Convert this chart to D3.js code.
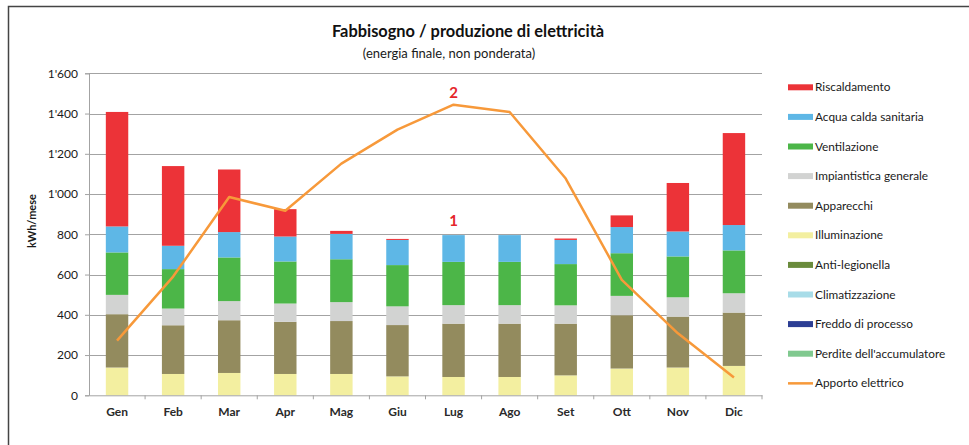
<!DOCTYPE html>
<html>
<head>
<meta charset="utf-8">
<script src="https://cdn.jsdelivr.net/npm/d3@7"></script>
<style>
  body { margin: 0; background: #fff; }
  svg text { font-family: Lato, "Open Sans", sans-serif; }
</style>
</head>
<body>
<div id="chart"></div>
<script>
// data (kWh/mese)
var months = ["Gen", "Feb", "Mar", "Apr", "Mag", "Giu", "Lug", "Ago", "Set", "Ott", "Nov", "Dic"];
var illuminazione = [138, 106, 111, 106, 106, 94, 91, 91, 99, 133, 138, 146];
var apparecchi = [265, 242, 262, 259, 263, 255, 265, 265, 257, 265, 253, 265];
var impiantistica = [96, 83, 95, 91, 94, 93, 92, 92, 91, 96, 96, 96];
var ventilazione = [211, 196, 217, 209, 213, 205, 215, 215, 205, 212, 203, 213];
var acquaCalda = [129, 116, 126, 124, 126, 125, 133, 133, 120, 130, 124, 126];
var riscaldamento = [569, 396, 311, 136, 15, 5, 0, 0, 7, 58, 241, 457];
var antiLegionella = [0, 0, 0, 0, 0, 0, 0, 0, 0, 0, 0, 0];
var climatizzazione = [0, 0, 0, 0, 0, 0, 0, 0, 0, 0, 0, 0];
var freddo = [0, 0, 0, 0, 0, 0, 0, 0, 0, 0, 0, 0];
var perdite = [0, 0, 0, 0, 0, 0, 0, 0, 0, 0, 0, 0];
var apporto = [272, 590, 985, 917, 1151, 1320, 1444, 1408, 1077, 574, 308, 88];
var yTicks = [0, 200, 400, 600, 800, 1000, 1200, 1400, 1600];

// stacking order bottom -> top
var series = [
    {name: "Illuminazione", values: illuminazione, color: "#f3efa0"},
    {name: "Apparecchi", values: apparecchi, color: "#938b5e"},
    {name: "Impiantistica generale", values: impiantistica, color: "#d2d3d2"},
    {name: "Ventilazione", values: ventilazione, color: "#4cb648"},
    {name: "Acqua calda sanitaria", values: acquaCalda, color: "#5eb7e6"},
    {name: "Riscaldamento", values: riscaldamento, color: "#ec3338"},
    {name: "Anti-legionella", values: antiLegionella, color: "#6a8b3c"},
    {name: "Climatizzazione", values: climatizzazione, color: "#a8dce8"},
    {name: "Freddo di processo", values: freddo, color: "#2c3e94"},
    {name: "Perdite dell'accumulatore", values: perdite, color: "#80c98f"}
];
var legendOrder = ["Riscaldamento", "Acqua calda sanitaria", "Ventilazione", "Impiantistica generale",
    "Apparecchi", "Illuminazione", "Anti-legionella", "Climatizzazione", "Freddo di processo",
    "Perdite dell'accumulatore"];
var lineColor = "#f7993a";

var width = 969, height = 445;
var svg = d3.select("#chart").append("svg")
    .attr("width", width)
    .attr("height", height);

// frame
svg.append("path")
    .attr("d", "M8.5,445 L8.5,6.5 L969,6.5")
    .attr("fill", "none")
    .attr("stroke", "#444")
    .attr("stroke-width", 1.5);

var plot = {left: 89, right: 762, top: 73.3, bottom: 395.3};

var x = d3.scaleBand()
    .domain(months)
    .range([plot.left, plot.right])
    .paddingInner(0.6)
    .paddingOuter(0.3);

var y = d3.scaleLinear()
    .domain([0, 1600])
    .range([plot.bottom, plot.top]);

// gridlines
svg.append("g")
    .selectAll("line")
    .data(yTicks.slice(1))
    .join("line")
    .attr("x1", plot.left)
    .attr("x2", plot.right)
    .attr("y1", d => Math.round(y(d)) + 0.5)
    .attr("y2", d => Math.round(y(d)) + 0.5)
    .attr("stroke", "#a3a3a3")
    .attr("stroke-width", 1.2);

// y axis
var fmt = d => d3.format(",")(d).replace(/,/g, "'");
var yAxis = svg.append("g")
    .attr("transform", "translate(" + plot.left + ",0)")
    .call(d3.axisLeft(y).tickValues(yTicks).tickFormat(fmt).tickSize(4).tickPadding(7));
yAxis.select(".domain").attr("stroke", "#a3a3a3");
yAxis.selectAll(".tick line").attr("stroke", "#a3a3a3");
yAxis.selectAll("text")
    .attr("font-size", 12)
    .attr("fill", "#1a1a1a");

svg.append("text")
    .attr("transform", "translate(36,221) rotate(-90)")
    .attr("text-anchor", "middle")
    .attr("font-size", 11)
    .attr("font-weight", "bold")
    .attr("fill", "#1a1a1a")
    .text("kWh/mese");

// stacked bars
var table = months.map((m, i) => {
    var row = {month: m};
    series.forEach(s => { row[s.name] = s.values[i]; });
    return row;
});
var stack = d3.stack().keys(series.map(s => s.name));
var layers = stack(table);

svg.append("g")
    .selectAll("g")
    .data(layers)
    .join("g")
    .attr("fill", (d, i) => series[i].color)
    .selectAll("rect")
    .data(d => d)
    .join("rect")
    .attr("x", d => x(d.data.month))
    .attr("width", x.bandwidth())
    .attr("y", d => y(d[1]))
    .attr("height", d => y(d[0]) - y(d[1]));

// x axis
var xAxis = svg.append("g")
    .attr("transform", "translate(0," + plot.bottom + ")")
    .call(d3.axisBottom(x).tickSize(0).tickPadding(12));
xAxis.select(".domain").attr("stroke", "#a3a3a3");
xAxis.selectAll("text")
    .attr("font-size", 12)
    .attr("font-weight", "bold")
    .attr("fill", "#2a2a2a");
// category separators
xAxis.append("g")
    .selectAll("line")
    .data(months.slice(1).concat(["end"]))
    .join("line")
    .attr("x1", (d, i) => i < months.length - 1 ? x(d) - x.step() * x.paddingInner() / 2 : plot.right)
    .attr("x2", (d, i) => i < months.length - 1 ? x(d) - x.step() * x.paddingInner() / 2 : plot.right)
    .attr("y1", 0)
    .attr("y2", 4)
    .attr("stroke", "#a3a3a3");

// production line
var line = d3.line()
    .x((d, i) => x(months[i]) + x.bandwidth() / 2)
    .y(d => y(d));
svg.append("path")
    .datum(apporto)
    .attr("d", line)
    .attr("fill", "none")
    .attr("stroke", lineColor)
    .attr("stroke-width", 2.5)
    .attr("stroke-linejoin", "round");

// annotations
svg.append("text")
    .attr("x", x("Lug") + x.bandwidth() / 2)
    .attr("y", y(1502) + 5)
    .attr("text-anchor", "middle")
    .attr("font-size", 15)
    .attr("font-weight", "bold")
    .attr("fill", "#e5262b")
    .text("2");
svg.append("text")
    .attr("x", x("Lug") + x.bandwidth() / 2)
    .attr("y", y(866) + 5)
    .attr("text-anchor", "middle")
    .attr("font-size", 15)
    .attr("font-weight", "bold")
    .attr("fill", "#e5262b")
    .text("1");

// titles
svg.append("text")
    .attr("x", 468)
    .attr("y", 37)
    .attr("text-anchor", "middle")
    .attr("font-size", 16.4)
    .attr("font-weight", "bold")
    .attr("fill", "#111")
    .text("Fabbisogno / produzione di elettricità");
svg.append("text")
    .attr("x", 449)
    .attr("y", 58)
    .attr("text-anchor", "middle")
    .attr("font-size", 13)
    .attr("fill", "#1a1a1a")
    .text("(energia finale, non ponderata)");

// legend
var legendItems = legendOrder.map(n => series.find(s => s.name === n))
    .concat([{name: "Apporto elettrico", color: lineColor, line: true}]);
var legend = svg.append("g")
    .selectAll("g")
    .data(legendItems)
    .join("g")
    .attr("transform", (d, i) => "translate(788," + (87.3 + i * 29.6) + ")");
legend.append("rect")
    .attr("x", 0)
    .attr("y", d => d.line ? -1.2 : -3)
    .attr("width", 25)
    .attr("height", d => d.line ? 2.5 : 6)
    .attr("fill", d => d.color);
legend.append("text")
    .attr("x", 27)
    .attr("y", 4)
    .attr("font-size", 11.8)
    .attr("fill", "#1a1a1a")
    .text(d => d.name);
</script>
</body>
</html>
